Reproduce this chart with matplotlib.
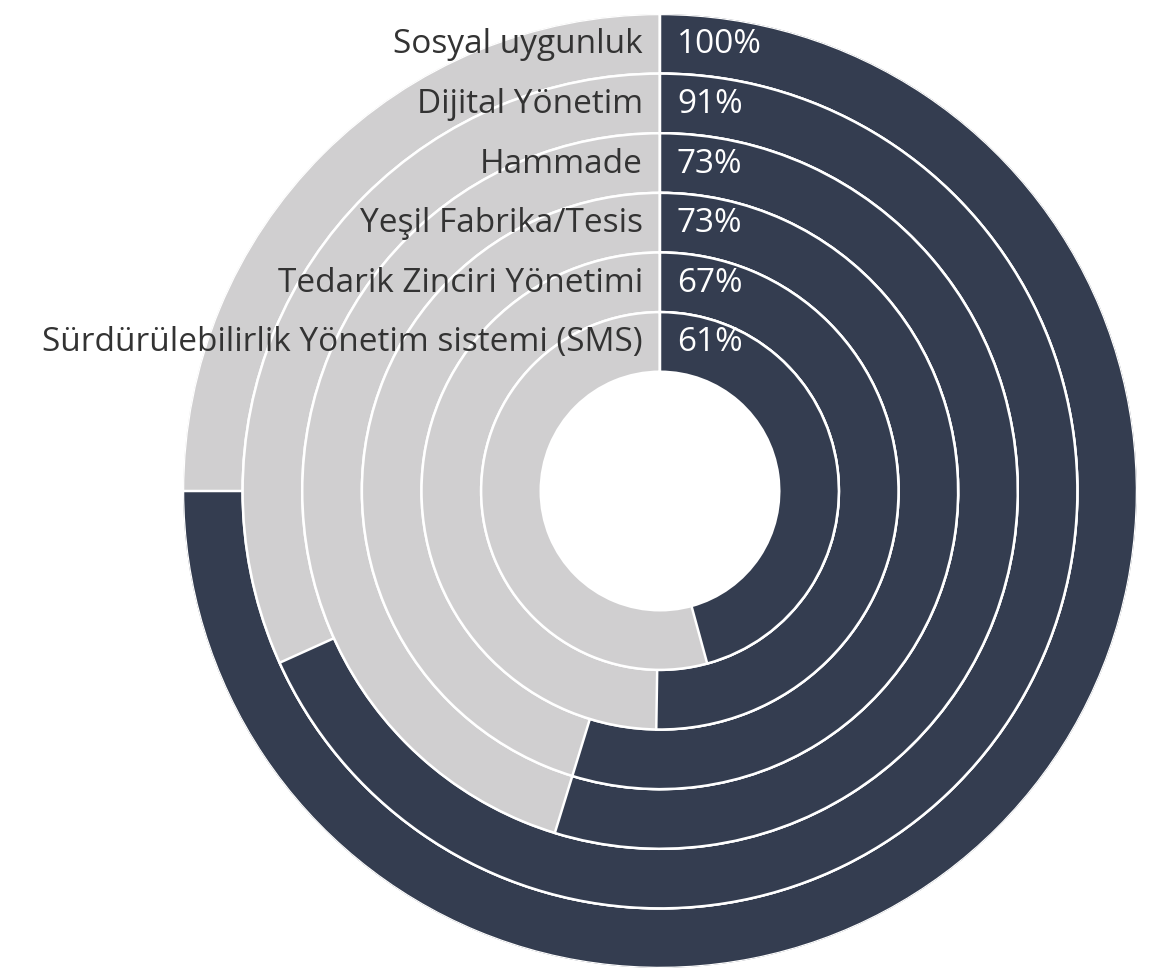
import numpy as np
import matplotlib
matplotlib.use("Agg")
import matplotlib.pyplot as plt

# data, outermost ring first
labels = ["Sosyal uygunluk", "Dijital Yönetim", "Hammade", "Yeşil Fabrika/Tesis",
          "Tedarik Zinciri Yönetimi", "Sürdürülebilirlik Yönetim sistemi (SMS)"]
values = [1.00, 0.91, 0.73, 0.73, 0.67, 0.61]
pct_labels = ["100%", "91%", "73%", "73%", "67%", "61%"]

dark = "#343d50"
light = "#d0cfd0"
max_angle = 1.5 * np.pi   # 100% = three quarters of the circle
hole = 2.0                # inner white hole, in ring units

W, H = 1162, 971
fig = plt.figure(figsize=(W / 100, H / 100), dpi=100)
cx, cy, R = 660, 491, 477
ax = fig.add_axes([(cx - R) / W, (H - cy - R) / H, 2 * R / W, 2 * R / H], projection="polar")
ax.set_theta_zero_location("N")
ax.set_theta_direction(-1)

n = len(values)
for i, (v, lab, pl) in enumerate(zip(values, labels, pct_labels)):
    bottom = hole + (n - 1 - i)
    ax.bar(0, 1, width=2 * np.pi, bottom=bottom, align="edge", color=light,
           edgecolor="white", linewidth=1.8)
    ax.bar(0, 1, width=v * max_angle, bottom=bottom, align="edge", color=dark,
           edgecolor="white", linewidth=1.8)
    mid = bottom + 0.5
    ax.annotate(lab, (0, mid), xytext=(-17, -1), textcoords="offset pixels",
                ha="right", va="center", fontsize=24, color="#333333",
                family="Open Sans")
    ax.annotate(pl, (0, mid), xytext=(17, -1), textcoords="offset pixels",
                ha="left", va="center", fontsize=24, color="white",
                family="Open Sans")

ax.set_ylim(0, hole + n)
ax.set_axis_off()

fig.savefig("out.png", dpi=100, facecolor="white")
